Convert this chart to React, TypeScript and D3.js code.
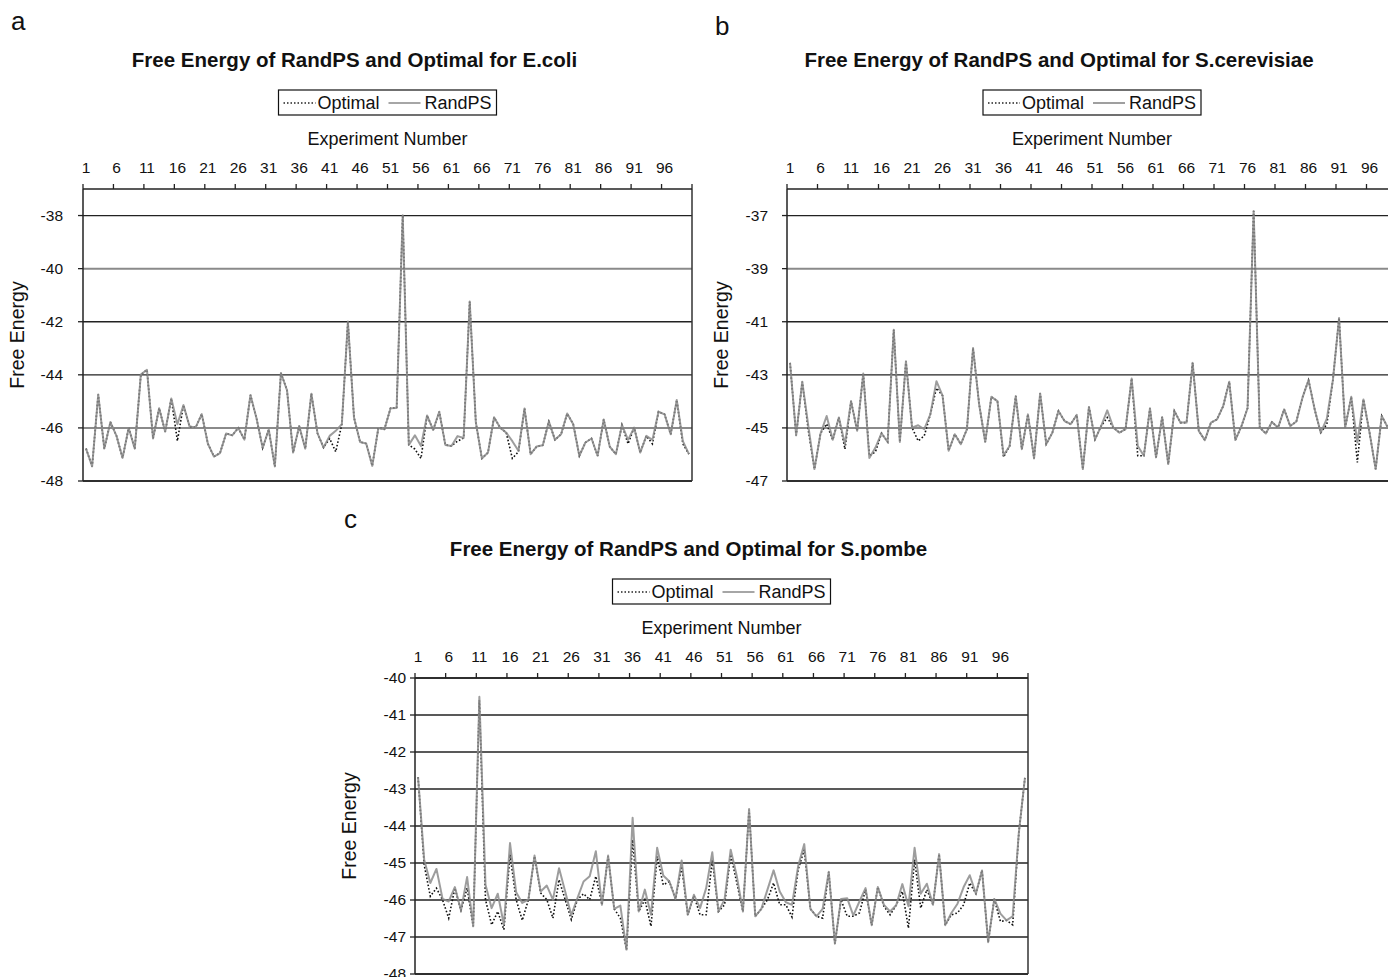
import * as d3 from "d3";
import React from "react";

// experiment numbers on the category axis
const experiments = d3.range(1, 101);
const tickLabels = [1, 6, 11, 16, 21, 26, 31, 36, 41, 46, 51, 56, 61, 66, 71, 76, 81, 86, 91, 96];

// E.coli
const ecoliRandPS = [
  -46.78, -47.45, -44.74, -46.78, -45.78, -46.3, -47.13, -46.0, -46.78, -43.99,
  -43.81, -46.4, -45.26, -46.14, -44.89, -45.86, -45.14, -45.95, -45.98, -45.48,
  -46.59, -47.08, -46.95, -46.21, -46.28, -46.0, -46.44, -44.76, -45.65, -46.75,
  -46.06, -47.45, -43.93, -44.58, -46.93, -45.93, -46.78, -44.71, -46.2, -46.74,
  -46.3, -46.11, -45.86, -41.99, -45.61, -46.53, -46.59, -47.43, -46.0, -46.05,
  -45.26, -45.25, -37.99, -46.64, -46.28, -46.68, -45.53, -46.08, -45.39, -46.64,
  -46.68, -46.31, -46.38, -41.24, -45.78, -47.15, -46.93, -45.6, -45.99, -46.18,
  -46.5, -46.86, -45.27, -46.99, -46.7, -46.65, -45.76, -46.45, -46.24, -45.46,
  -45.86, -47.05, -46.55, -46.4, -47.05, -45.68, -46.71, -46.99, -45.89, -46.45,
  -45.99, -46.93, -46.3, -46.45, -45.39, -45.49, -46.24, -44.95, -46.5, -46.99,
];
const ecoliOptimal = [
  -46.78, -47.45, -44.74, -46.78, -45.78, -46.3, -47.13, -46.0, -46.78, -43.99,
  -43.81, -46.4, -45.26, -46.14, -44.89, -46.49, -45.14, -45.95, -45.98, -45.48,
  -46.59, -47.08, -46.95, -46.21, -46.28, -46.0, -46.44, -44.76, -45.65, -46.75,
  -46.06, -47.45, -43.93, -44.58, -46.93, -45.93, -46.78, -44.71, -46.2, -46.74,
  -46.4, -46.9, -45.86, -41.99, -45.61, -46.53, -46.59, -47.43, -46.0, -46.05,
  -45.26, -45.25, -37.99, -46.64, -46.8, -47.15, -45.53, -46.08, -45.39, -46.64,
  -46.68, -46.5, -46.38, -41.24, -45.78, -47.15, -46.93, -45.6, -45.99, -46.18,
  -47.15, -46.9, -45.27, -46.99, -46.7, -46.65, -45.76, -46.45, -46.24, -45.46,
  -45.86, -47.05, -46.55, -46.4, -47.05, -45.68, -46.71, -46.99, -45.89, -46.6,
  -45.99, -46.93, -46.3, -46.6, -45.39, -45.49, -46.24, -44.95, -46.6, -46.99,
];

// S.cerevisiae
const cerevisiaeRandPS = [
  -42.55, -45.28, -43.26, -44.93, -46.55, -45.21, -44.55, -45.45, -44.61, -45.61,
  -43.99, -45.11, -42.95, -46.13, -45.74, -45.2, -45.53, -41.3, -45.53, -42.49,
  -44.99, -44.9, -45.05, -44.49, -43.24, -43.78, -45.86, -45.24, -45.61, -45.05,
  -41.99, -44.11, -45.53, -43.83, -43.99, -46.03, -45.68, -43.8, -45.8, -44.49,
  -46.15, -43.7, -45.61, -45.18, -44.36, -44.74, -44.86, -44.51, -46.55, -44.21,
  -45.43, -44.93, -44.34, -44.99, -45.18, -45.05, -43.14, -45.68, -46.05, -44.26,
  -46.11, -44.59, -46.36, -44.36, -44.8, -44.8, -42.55, -45.11, -45.46, -44.8,
  -44.68, -44.18, -43.26, -45.46, -44.93, -44.26, -36.83, -44.99, -45.21, -44.78,
  -44.99, -44.3, -44.93, -44.76, -43.86, -43.2, -44.3, -45.18, -44.65, -43.18,
  -40.86, -44.99, -43.83, -45.55, -43.93, -45.18, -46.55, -44.55, -44.99, -44.7,
];
const cerevisiaeOptimal = [
  -42.55, -45.28, -43.26, -45.1, -46.55, -45.21, -44.85, -45.45, -44.61, -45.8,
  -43.99, -45.11, -42.95, -46.05, -45.9, -45.2, -45.53, -41.3, -45.53, -42.49,
  -44.99, -45.49, -45.3, -44.49, -43.5, -43.78, -45.86, -45.24, -45.61, -45.05,
  -41.99, -44.11, -45.53, -43.83, -43.99, -46.1, -45.68, -43.8, -45.8, -44.49,
  -46.15, -43.7, -45.61, -45.18, -44.36, -44.74, -44.86, -44.51, -46.55, -44.21,
  -45.43, -44.93, -44.61, -44.99, -45.18, -45.05, -43.14, -46.05, -46.05, -44.26,
  -46.11, -44.59, -46.36, -44.36, -44.8, -44.8, -42.55, -45.11, -45.46, -44.8,
  -44.68, -44.18, -43.26, -45.46, -44.93, -44.26, -36.83, -44.99, -45.21, -44.78,
  -44.99, -44.3, -44.93, -44.76, -43.86, -43.2, -44.3, -45.18, -44.86, -43.18,
  -40.86, -44.99, -43.83, -46.3, -43.93, -45.18, -46.55, -44.55, -44.99, -44.7,
];

// S.pombe
const pombeRandPS = [
  -42.68, -44.91, -45.54, -45.16, -45.97, -46.04, -45.65, -46.28, -45.38, -46.71,
  -40.51, -45.59, -46.22, -45.83, -46.67, -44.46, -45.79, -46.08, -45.99, -44.8,
  -45.77, -45.61, -45.99, -45.14, -45.77, -46.41, -45.95, -45.5, -45.36, -44.68,
  -46.13, -44.8, -46.24, -46.15, -47.34, -43.78, -46.31, -45.72, -46.4, -44.59,
  -45.34, -45.5, -45.97, -44.93, -46.4, -45.86, -46.22, -45.68, -44.71, -46.31,
  -45.99, -44.64, -45.36, -46.31, -43.54, -46.44, -46.24, -45.72, -45.2, -45.77,
  -46.06, -46.13, -45.09, -44.49, -46.24, -46.44, -46.24, -45.24, -47.18, -45.97,
  -45.95, -46.42, -46.04, -45.68, -46.68, -45.65, -46.13, -46.31, -46.14, -45.57,
  -46.17, -44.59, -45.83, -45.56, -46.13, -44.76, -46.68, -46.35, -46.1, -45.65,
  -45.33, -45.83, -45.2, -47.14, -45.97, -46.37, -46.55, -46.44, -44.19, -42.7,
];
const pombeOptimal = [
  -42.68, -45.05, -45.9, -45.68, -46.0, -46.49, -45.68, -46.28, -45.68, -46.71,
  -40.6, -45.99, -46.67, -46.31, -46.8, -44.77, -45.99, -46.55, -45.99, -44.82,
  -45.81, -45.99, -46.49, -45.45, -45.99, -46.53, -45.99, -45.83, -45.99, -45.36,
  -46.13, -44.82, -46.24, -46.49, -47.34, -44.37, -46.31, -45.99, -46.71, -44.82,
  -45.59, -45.5, -45.97, -45.09, -46.4, -45.88, -46.4, -46.4, -44.91, -46.31,
  -46.13, -44.77, -45.54, -46.31, -43.56, -46.44, -46.24, -45.99, -45.54, -46.13,
  -46.13, -46.46, -45.18, -44.64, -46.24, -46.44, -46.49, -45.24, -47.18, -45.99,
  -46.44, -46.44, -46.35, -45.72, -46.68, -45.65, -46.17, -46.4, -46.14, -45.77,
  -46.76, -44.91, -46.22, -45.72, -46.13, -44.76, -46.68, -46.4, -46.35, -46.13,
  -45.54, -45.83, -45.2, -47.14, -45.97, -46.58, -46.55, -46.67, -44.19, -42.7,
];

const ecoliTicks = [-48, -46, -44, -42, -40, -38];
const cerevisiaeTicks = [-47, -45, -43, -41, -39, -37];
const pombeTicks = [-48, -47, -46, -45, -44, -43, -42, -41, -40];

const FONT = "'Liberation Sans', Arial, Helvetica, sans-serif";

type PanelProps = {
  letter: string;
  letterX: number;
  letterY: number;
  title: string;
  left: number;
  top: number;
  width: number;
  height: number;
  yDomain: [number, number];
  yTicks: number[];
  greyGrid: number[];
  labelGap: number;
  rand: number[];
  opt: number[];
};

function Panel(p: PanelProps) {
  const x = d3.scaleBand<number>().domain(experiments).range([p.left, p.left + p.width]).padding(0);
  const cx = (i: number) => (x(i) as number) + x.bandwidth() / 2;
  const y = d3.scaleLinear().domain(p.yDomain).range([p.top + p.height, p.top]);
  const line = d3
    .line<number>()
    .x((d, i) => cx(experiments[i]))
    .y((d) => y(d));

  const right = p.left + p.width;
  const bottom = p.top + p.height;
  const mid = p.left + p.width / 2;

  // tick marks at the category boundaries every five experiments
  const tickEdges = tickLabels.map((t) => x(t) as number).concat([right]);

  const lx = mid - 109;
  const ly = p.top - 99;

  return (
    <g fontFamily={FONT} fill="#111">
      <text x={p.letterX} y={p.letterY} fontSize={26}>{p.letter}</text>
      <text x={mid - 33} y={p.top - 122} fontSize={20.5} fontWeight="bold" textAnchor="middle">
        {p.title}
      </text>

      {/* legend */}
      <rect x={lx} y={ly} width={218} height={25} fill="#fff" stroke="#111" strokeWidth={1.2} />
      <line x1={lx + 5} x2={lx + 37} y1={ly + 13} y2={ly + 13} stroke="#222" strokeWidth={1.3} strokeDasharray="1.5,2" />
      <text x={lx + 39} y={ly + 19} fontSize={18}>Optimal</text>
      <line x1={lx + 110} x2={lx + 142} y1={ly + 13} y2={ly + 13} stroke="#888" strokeWidth={1.6} />
      <text x={lx + 146} y={ly + 19} fontSize={18}>RandPS</text>

      <text x={mid} y={p.top - 44} fontSize={18} textAnchor="middle">Experiment Number</text>
      {tickLabels.map((t) => (
        <text key={t} x={cx(t)} y={p.top - 16} fontSize={15.5} textAnchor="middle">{t}</text>
      ))}

      {/* gridlines */}
      {p.yTicks.map((t) => {
        const grey = p.greyGrid.includes(t);
        return (
          <line key={t} x1={p.left} x2={right} y1={y(t)} y2={y(t)}
            stroke={grey ? "#8a8a8a" : "#222"} strokeWidth={grey ? 2 : 1.3} />
        );
      })}

      {/* plot frame */}
      <line x1={p.left} x2={right} y1={bottom} y2={bottom} stroke="#222" strokeWidth={1.5} />
      <line x1={right} x2={right} y1={p.top} y2={bottom} stroke="#333" strokeWidth={1.5} />
      <line x1={p.left} x2={right} y1={p.top} y2={p.top} stroke="#222" strokeWidth={1.5} />
      <line x1={p.left} x2={p.left} y1={p.top} y2={bottom} stroke="#222" strokeWidth={1.5} />
      {tickEdges.map((tx, i) => (
        <line key={i} x1={tx} x2={tx} y1={p.top} y2={p.top - 5} stroke="#222" strokeWidth={1.3} />
      ))}
      {p.yTicks.map((t) => (
        <line key={t} x1={p.left - 5} x2={p.left} y1={y(t)} y2={y(t)} stroke="#222" strokeWidth={1.3} />
      ))}
      {p.yTicks.map((t) => (
        <text key={t} x={p.left - p.labelGap} y={y(t) + 5} fontSize={15.5} textAnchor="end">{t}</text>
      ))}
      <text
        transform={`translate(${p.left - 59},${p.top + p.height / 2}) rotate(-90)`}
        fontSize={19.5}
        textAnchor="middle"
      >
        Free Energy
      </text>

      {/* series: dotted Optimal beneath, grey RandPS on top */}
      <path d={line(p.opt) || ""} fill="none" stroke="#111" strokeWidth={1.6} strokeDasharray="1.6,2" />
      <path d={line(p.rand) || ""} fill="none" stroke="#8c8c8c" strokeWidth={2} strokeOpacity={0.85} strokeLinejoin="round" />
    </g>
  );
}

export default function App() {
  return (
    <svg
      width={1388}
      height={977}
      style={{ position: "absolute", left: 0, top: 0, background: "#fff" }}
    >
      <rect width={1388} height={977} fill="#fff" />
      <Panel
        letter="a" letterX={11} letterY={30}
        title="Free Energy of RandPS and Optimal for E.coli"
        left={83} top={189} width={609} height={292}
        yDomain={[-48, -37]} yTicks={ecoliTicks} greyGrid={[-40, -46]} labelGap={20}
        rand={ecoliRandPS} opt={ecoliOptimal}
      />
      <Panel
        letter="b" letterX={715} letterY={35}
        title="Free Energy of RandPS and Optimal for S.cerevisiae"
        left={787} top={189} width={610} height={292}
        yDomain={[-47, -36]} yTicks={cerevisiaeTicks} greyGrid={[-39, -45]} labelGap={19}
        rand={cerevisiaeRandPS} opt={cerevisiaeOptimal}
      />
      <Panel
        letter="c" letterX={344} letterY={528}
        title="Free Energy of RandPS and Optimal for S.pombe"
        left={415} top={678} width={613} height={296}
        yDomain={[-48, -40]} yTicks={pombeTicks} greyGrid={[]} labelGap={9}
        rand={pombeRandPS} opt={pombeOptimal}
      />
    </svg>
  );
}
